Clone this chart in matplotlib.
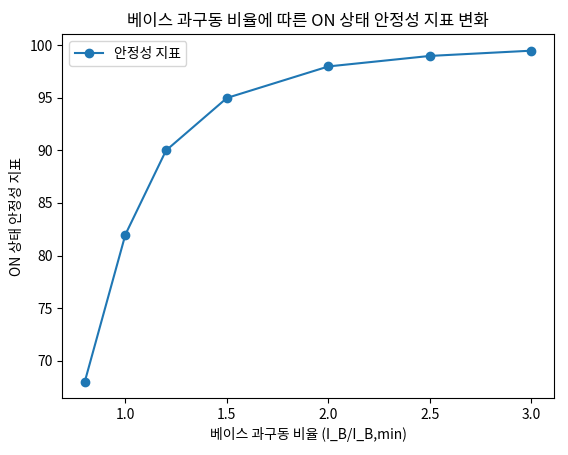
import matplotlib
matplotlib.use("Agg")
import matplotlib.pyplot as plt

plt.rcParams['font.family'] = ['Noto Sans CJK KR', 'DejaVu Sans']

ratio = [0.8, 1.0, 1.2, 1.5, 2.0, 2.5, 3.0]
stability = [68, 82, 90, 95, 98, 99, 99.5]

fig, ax = plt.subplots(figsize=(5.68, 4.55), dpi=100)
ax.plot(ratio, stability, marker='o', label='안정성 지표')
ax.set_title('베이스 과구동 비율에 따른 ON 상태 안정성 지표 변화')
ax.set_xlabel('베이스 과구동 비율 (I_B/I_B,min)')
ax.set_ylabel('ON 상태 안정성 지표')
ax.legend(loc='upper left')
fig.subplots_adjust(left=0.11, right=0.975, top=0.925, bottom=0.125)
fig.savefig('out.png')
